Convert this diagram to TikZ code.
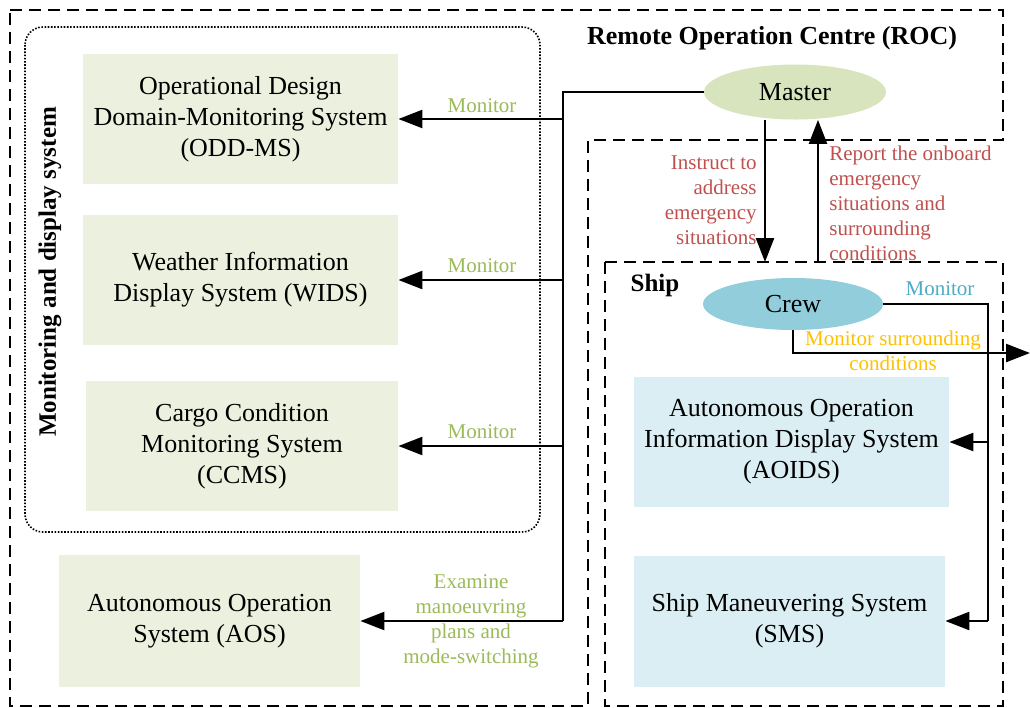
\documentclass[tikz,border=0pt]{standalone}
\usepackage{fontspec}
\setmainfont{Liberation Serif}
\usetikzlibrary{arrows.meta,shapes.geometric}

\definecolor{boxgreen}{HTML}{EBF1DE}
\definecolor{boxblue}{HTML}{DAEEF3}
\definecolor{mastergreen}{HTML}{D7E4BD}
\definecolor{crewblue}{HTML}{92CDDC}
\definecolor{lblgreen}{HTML}{9BBB59}
\definecolor{lblred}{HTML}{C0504D}
\definecolor{lblblue}{HTML}{4BACC6}
\definecolor{lblorange}{HTML}{FFC000}

\begin{document}
\begin{tikzpicture}[x=0.5pt,y=-0.5pt,
  sysbox/.style={inner sep=0pt,align=center,font=\fontsize{13}{15.5}\selectfont},
  greenbox/.style={sysbox,fill=boxgreen,minimum width=157.5pt,minimum height=65pt},
  bluebox/.style={sysbox,fill=boxblue,minimum width=157.5pt,minimum height=65pt},
  actor/.style={ellipse,inner sep=0pt,minimum width=91pt,minimum height=27pt,font=\fontsize{13}{15.5}\selectfont},
  lbl/.style={inner sep=0pt,align=center,font=\fontsize{10.5}{12.5}\selectfont},
  title/.style={inner sep=0pt,font=\fontsize{12.5}{15}\selectfont\bfseries},
  region/.style={line width=0.8pt,dash pattern=on 6pt off 3.5pt},
  link/.style={line width=1.2pt},
  arrow/.style={link,-{Triangle[length=12pt,width=9pt]}}]
\useasboundingbox (0,0) rectangle (1030,708);

% regions
\draw[region] (10,10) -- (1003,10) -- (1003,140) -- (588,140) -- (588,706) -- (10,706) -- cycle;
\draw[region] (605,262) rectangle (1003,706);
\draw[line width=0.8pt,dash pattern=on 0.8pt off 0.8pt,rounded corners=9pt] (25,27) rectangle (540,532);
\node[title,font=\fontsize{13}{15}\selectfont\bfseries] (roctitle) at (772,38) {Remote Operation Centre (ROC)};
\node[title] (shiptitle) at (655,285) {Ship};
\node[title,rotate=90] (mdstitle) at (50,272) {Monitoring and display system};

% systems
\node[greenbox] (oddms) at (240.5,119) {Operational Design\\Domain-Monitoring System\\(ODD-MS)};
\node[greenbox] (wids) at (240.5,280) {Weather Information\\Display System (WIDS)};
\node[greenbox,minimum width=156pt] (ccms) at (242,446) {Cargo Condition\\Monitoring System\\(CCMS)};
\node[greenbox,minimum width=150.5pt,minimum height=66pt] (aos) at (209.5,621) {Autonomous Operation\\System (AOS)};
\node[bluebox] (aoids) at (791.5,442) {Autonomous Operation\\Information Display System\\(AOIDS)};
\node[bluebox,minimum width=155.5pt,minimum height=65.5pt] (sms) at (789.5,621) {Ship Maneuvering System\\(SMS)};

% people
\node[actor,fill=mastergreen,minimum height=27.5pt] (master) at (795,92) {Master};
\node[actor,fill=crewblue,minimum width=90pt,minimum height=26pt] (crew) at (793,304) {Crew};

% master to the systems
\coordinate (mtop) at (563,92);
\coordinate (mbot) at (563,621);
\draw[link] (master.west) -- (mtop) -- (mbot);
\draw[arrow] (mtop |- oddms) -- (oddms.east);
\draw[arrow] (mtop |- wids) -- (wids.east);
\draw[arrow] (mtop |- ccms) -- (ccms.east);
\draw[arrow] (mbot) -- (aos.east);
\node[lbl,text=lblgreen] (mon1) at (482,106) {Monitor};
\node[lbl,text=lblgreen] (mon2) at (482,266) {Monitor};
\node[lbl,text=lblgreen] (mon3) at (482,432) {Monitor};
\node[lbl,text=lblgreen] (exam) at (471,621) {Examine\\manoeuvring\\plans and\\mode-switching};

% master and crew
\coordinate (shiptop) at (0,262);
\draw[arrow] ([xshift=-15pt]master.south) -- ([xshift=-15pt]master.south |- shiptop);
\draw[arrow] ([xshift=11.5pt]master.south |- shiptop) -- ([xshift=11.5pt]master.south);
\node[lbl,text=lblred,align=right,anchor=east] (instr) at (757,200) {Instruct to\\address\\emergency\\situations};
\node[lbl,text=lblred,align=left,anchor=west] (report) at (829,203) {Report the onboard\\emergency\\situations and\\surrounding\\conditions};

% crew to the ship systems
\coordinate (ctop) at (988,304);
\coordinate (cbot) at (988,621);
\draw[link] (crew.east) -- (ctop) -- (cbot);
\draw[arrow] (ctop |- aoids) -- (aoids.east);
\draw[arrow] (cbot) -- (sms.east);
\node[lbl,text=lblblue] (mon4) at (940,289) {Monitor};

\coordinate (outside) at (1030,353);
\draw[arrow] (crew.south) -- (crew.south |- outside) -- (outside);
\node[lbl,text=lblorange] (surr) at (893,351) {Monitor surrounding\\conditions};
\end{tikzpicture}
\end{document}
